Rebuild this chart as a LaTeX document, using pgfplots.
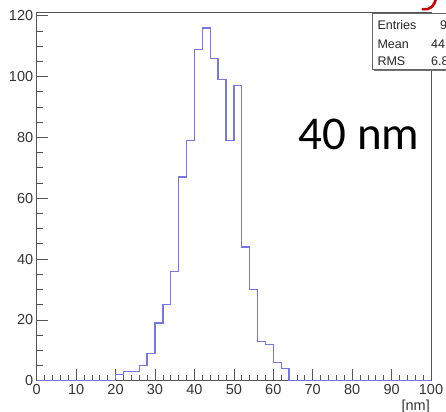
\documentclass[border=0pt]{standalone}
\usepackage{pgfplots}
\pgfplotsset{compat=1.18}
\usepackage{fontspec}
\setmainfont{Liberation Sans}
\newfontfamily\calibri{Carlito}
\definecolor{histblue}{RGB}{118,118,228}
\definecolor{framegray}{RGB}{85,85,85}
\begin{document}
\begin{tikzpicture}
\begin{axis}[
  at={(0,0)}, anchor=south west,
  scale only axis,
  width=394.3bp, height=368bp,
  xmin=0, xmax=100, ymin=0, ymax=121,
  xtick={0,10,...,100}, ytick={0,20,...,120},
  minor x tick num=4, minor y tick num=3,
  tick pos=left, tick align=inside,
  major tick length=11.5bp, minor tick length=6bp,
  tick style={color=framegray, line width=0.7bp},
  axis line style={draw=framegray, line width=0.7bp},
  ticklabel style={font=\fontsize{14.5bp}{16bp}\selectfont, text=black!80},
  /pgf/number format/assume math mode=true,
  clip=false,
]
\addplot[const plot mark left, color=histblue, line width=1.3bp] coordinates {
(0,0) (20,2) (22,3) (24,3) (26,5) (28,9) (30,19) (32,25) (34,36) (36,67) (38,79)
(40,109) (42,116) (44,106) (46,99) (48,79) (50,97) (52,44) (54,30) (56,13) (58,12)
(60,6) (62,4) (64,0) (100,0)
};
\end{axis}
% x-axis unit label
\node[anchor=base east, inner sep=0pt, font=\fontsize{14.5bp}{16bp}\selectfont, text=black!80] at (393.3bp,-29.3bp) {[nm]};
% large annotation
\node[anchor=base, inner sep=0pt, font=\calibri\fontsize{47bp}{50bp}\selectfont] at (322.3bp,230.7bp) {40 nm};
% stats box (with shadow)
\fill[black!55] (337.1bp,309.9bp) rectangle (460bp,365.9bp);
\filldraw[fill=white, draw=black!60, line width=0.8bp] (335.6bp,311.4bp) rectangle (458bp,367.4bp);
\begin{scope}[font=\fontsize{12.5bp}{14bp}\selectfont, text=black!85]
\node[anchor=base west, inner sep=0pt] at (340.6bp,351.4bp) {Entries};
\node[anchor=base west, inner sep=0pt] at (340.6bp,332.4bp) {Mean};
\node[anchor=base west, inner sep=0pt] at (340.6bp,315.0bp) {RMS};
\node[anchor=base west, inner sep=0pt] at (403.3bp,351.4bp) {963};
\node[anchor=base west, inner sep=0pt] at (394.3bp,332.4bp) {44.23};
\node[anchor=base west, inner sep=0pt] at (394.3bp,315.0bp) {6.84};
\end{scope}
% red pen stroke at the top edge
\draw[red!80!black, line width=2.6bp, line cap=round] (399.5bp,383bp) .. controls (397.5bp,374bp) and (393bp,370.5bp) .. (386bp,371.5bp);
\pgfresetboundingbox
\path[use as bounding box] (-36.7bp,-31.3bp) rectangle (409.3bp,380.7bp);
\end{tikzpicture}
\end{document}
